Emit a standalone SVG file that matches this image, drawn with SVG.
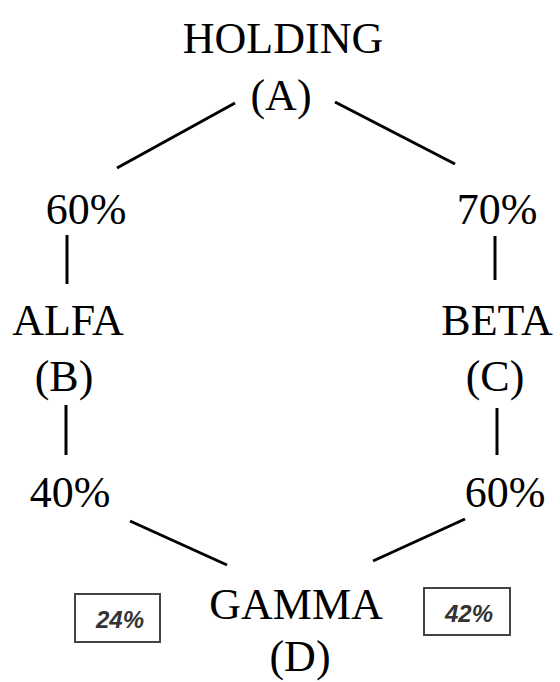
<svg xmlns="http://www.w3.org/2000/svg" width="560" height="682" viewBox="0 0 560 682">
<style>
.t{font-family:"Liberation Serif","Times New Roman",serif;font-size:44px;fill:#000;text-anchor:middle}
.c{stroke:#000;stroke-width:3;fill:none}
.b{fill:#fff;stroke:#444;stroke-width:2}
.p{font-family:"Liberation Sans",Arial,sans-serif;font-size:24px;font-weight:bold;font-style:italic;fill:#333;text-anchor:middle}
</style>
<rect width="560" height="682" fill="#fff"/>
<g id="connectors">
<line class="c" x1="117" y1="168" x2="235" y2="103"/>
<line class="c" x1="335" y1="102" x2="455" y2="164"/>
<line class="c" x1="67" y1="235" x2="67" y2="284"/>
<line class="c" x1="495" y1="236" x2="495" y2="280"/>
<line class="c" x1="66" y1="405" x2="66" y2="455"/>
<line class="c" x1="497" y1="408" x2="497" y2="455"/>
<line class="c" x1="130" y1="521" x2="227" y2="565"/>
<line class="c" x1="465" y1="519" x2="373" y2="561"/>
</g>
<g id="nodeA"><text class="t" x="283" y="53">HOLDING</text><text class="t" x="281" y="110">(A)</text></g>
<g id="pctAB"><text class="t" x="86" y="224">60%</text></g>
<g id="pctAC"><text class="t" x="497" y="224">70%</text></g>
<g id="nodeB"><text class="t" x="68" y="335">ALFA</text><text class="t" x="64" y="391">(B)</text></g>
<g id="nodeC"><text class="t" x="497" y="335">BETA</text><text class="t" x="495" y="391">(C)</text></g>
<g id="pctBD"><text class="t" x="70" y="507">40%</text></g>
<g id="pctCD"><text class="t" x="505" y="507">60%</text></g>
<g id="nodeD"><text class="t" x="296" y="619">GAMMA</text><text class="t" x="300" y="671">(D)</text></g>
<g id="box24"><rect class="b" x="75" y="594" width="85" height="48"/><text class="p" x="120" y="628">24%</text></g>
<g id="box42"><rect class="b" x="424" y="588" width="86" height="47"/><text class="p" x="469" y="622">42%</text></g>
</svg>
